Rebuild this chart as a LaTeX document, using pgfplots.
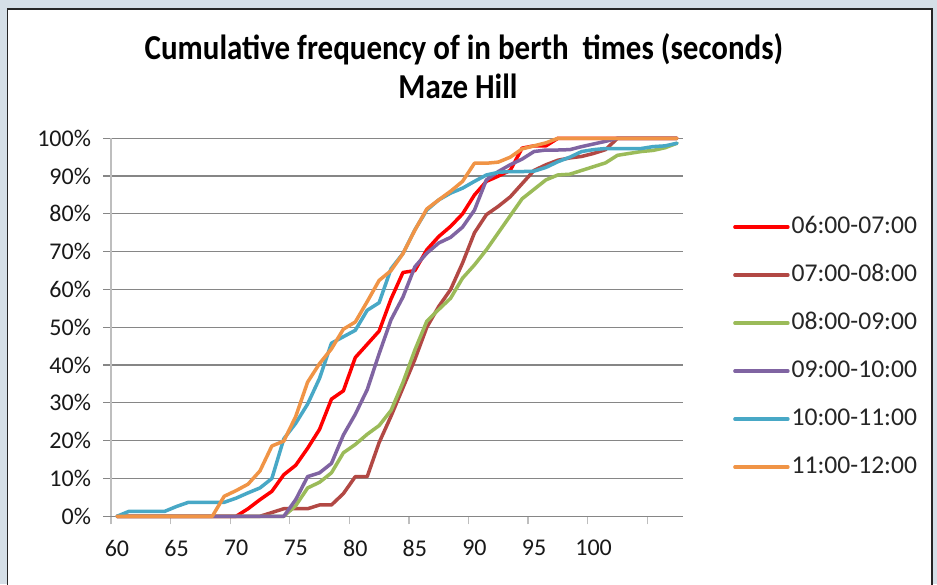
\documentclass[border=0pt]{standalone}
\usepackage{fontspec}
\setmainfont{Carlito}
\usepackage{graphicx}
\usepackage{pgfplots}
\usepackage{pgfplotstable}
\pgfplotsset{compat=1.18}

\definecolor{bgcol}{RGB}{213,223,231}
\definecolor{cRed}{RGB}{255,0,0}
\definecolor{cBrown}{RGB}{178,72,68}
\definecolor{cGreen}{RGB}{155,187,89}
\definecolor{cPurple}{RGB}{128,100,162}
\definecolor{cTeal}{RGB}{72,168,198}
\definecolor{cOrange}{RGB}{240,148,70}
\definecolor{gridc}{RGB}{134,134,134}
\definecolor{axisc}{RGB}{190,190,190}

\pgfplotstableread{
x   r     b     g     p     t     o
60  0     0     0     0     0     0
61  0     0     0     0     1.3   0
62  0     0     0     0     1.3   0
63  0     0     0     0     1.3   0
64  0     0     0     0     1.3   0
65  0     0     0     0     2.6   0
66  0     0     0     0     3.7   0
67  0     0     0     0     3.7   0
68  0     0     0     0     3.7   0
69  0     0     0     0     3.7   5.3
70  0     0     0     0     4.8   6.8
71  2     0     0     0     6.2   8.5
72  4.4   0     0     0     7.5   12
73  6.6   1     0     0     10    18.6
74  11    2     0     0     20.5  19.9
75  13.5  2     2.8   4.4   24.6  26.4
76  18    2     7.5   10.5  29.7  35.5
77  23    3     9     11.5  36.5  40.4
78  31    3     11.5  14    45.8  44.3
79  33.2  6     16.8  21.5  47.5  49.5
80  42    10.5  19    27    49.2  51.4
81  45.5  10.5  21.7  33.5  54.5  56.8
82  49    19.5  24    43    56.5  62.4
83  57.5  26.5  28    52    65.5  65
84  64.5  34    35.4  58    69.5  69.5
85  65    41.5  44    66    75.8  75.7
86  70.5  50    51.6  69.6  81    81.3
87  74    55.5  54.7  72.3  83.7  83.7
88  76.7  60    57.7  73.8  85.5  86
89  80    67    63    76.5  86.8  88.6
90  85    75    66.5  81    88.6  93.4
91  88.6  79.8  70.5  89    90.3  93.4
92  90    82    75    91.2  91    93.7
93  91.5  84.5  79.5  93    91.2  95
94  97.4  88    84    94.5  91.2  97.2
95  98    91.5  86.5  96.5  91.3  98
96  98    93    89    96.9  92.3  98.8
97  100   94.2  90.3  96.9  93.8  100
98  100   94.8  90.5  97    95    100
99  100   95.2  91.5  97.8  96.5  100
100 100   96    92.5  98.5  97    100
101 100   97    93.5  99.2  97.3  100
102 100   100   95.5  100   97.3  100
103 100   100   96    100   97.3  100
104 100   100   96.5  100   97.3  100
105 100   100   96.8  100   97.8  100
106 100   100   97.5  100   98    100
107 100   100   98.7  100   98.7  100
}\datatable

\begin{document}
\begin{tikzpicture}
\useasboundingbox (0,0) rectangle (468.5pt,292pt);
\fill[bgcol] (0,0) rectangle (468.5pt,292pt);
\filldraw[fill=white, draw=black!85, line width=0.9pt] (3.7pt,-6pt) rectangle (465.9pt,287.4pt);
\node[anchor=base, font=\bfseries\fontsize{17.5}{21}\selectfont] at (232pt,262pt)
  {\scalebox{0.885}[1]{Cumulative frequency of in berth\ \ times (seconds)}};
\node[anchor=base, font=\bfseries\fontsize{17.5}{21}\selectfont] at (229pt,242.5pt)
  {\scalebox{0.885}[1]{Maze Hill}};
\begin{axis}[
  at={(55.5pt,33.85pt)}, anchor=south west,
  width=286pt, height=189pt, scale only axis,
  xmin=59.5, xmax=107.5, ymin=0, ymax=100,
  clip=false,
  axis lines*=left,
  x axis line style={draw=gridc, line width=0.6pt},
  y axis line style={draw=axisc, line width=0.6pt},
  tick align=outside,
  major tick length=4pt,
  xtick={59.5,64.5,...,104.5},
  xticklabels={60,65,70,75,80,85,90,95,100,{}},
  x tick label style={xshift=2.98pt, yshift=-4.5pt},
  y tick label style={xshift=-2.5pt},
  x tick style={draw=axisc, line width=0.6pt},
  y tick style={draw=gridc, line width=0.6pt},
  ytick={0,10,...,100},
  yticklabels={0\%,10\%,20\%,30\%,40\%,50\%,60\%,70\%,80\%,90\%,100\%},
  ymajorgrids,
  major grid style={draw=gridc, line width=0.6pt},
  tick label style={font=\fontsize{12}{14}\selectfont, text=black!90},
  every axis plot/.append style={line width=1.75pt, line join=round, line cap=round},
  legend style={at={(axis description cs:1.087,0.795)}, anchor=north west,
    draw=none, fill=none, inner sep=0pt, row sep=13pt,
    font=\fontsize{12.8}{15}\selectfont, text=black!85,
    nodes={inner xsep=1pt, inner ysep=0pt, text height=8.5pt, text depth=2.5pt}},
  legend cell align=left,
  legend image code/.code={\draw[#1] (0pt,0pt) -- (26.5pt,0pt);},
]
\addplot[cRed]    table[x=x,y=r] {\datatable};
\addplot[cBrown]  table[x=x,y=b] {\datatable};
\addplot[cGreen]  table[x=x,y=g] {\datatable};
\addplot[cPurple] table[x=x,y=p] {\datatable};
\addplot[cTeal]   table[x=x,y=t] {\datatable};
\addplot[cOrange] table[x=x,y=o] {\datatable};
\legend{06:00-07:00,07:00-08:00,08:00-09:00,09:00-10:00,10:00-11:00,11:00-12:00}
\end{axis}
\end{tikzpicture}
\end{document}
